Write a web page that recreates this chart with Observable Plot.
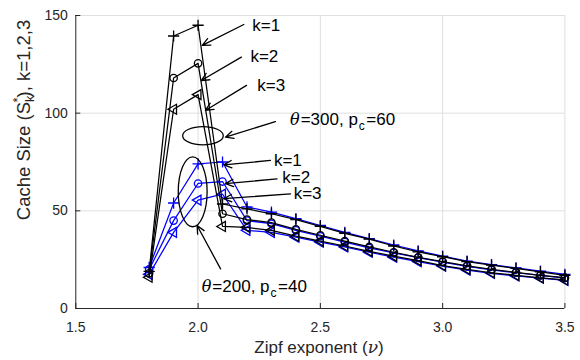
<!DOCTYPE html>
<html><head><meta charset="utf-8">
<script src="https://cdn.jsdelivr.net/npm/d3@7"></script>
<script src="https://cdn.jsdelivr.net/npm/@observablehq/plot@0.6"></script>
<style>body{margin:0;background:#fff}</style>
</head><body><div id="chart"></div>
<script>
// ---- data ----
const zipf = [1.8,1.9,2.0,2.1,2.2,2.3,2.4,2.5,2.6,2.7,2.8,2.9,3.0,3.1,3.2,3.3,3.4,3.5];
const th300k1 = [19,139.5,145,53.5,51,48.5,45.5,42,38.5,35.5,32,29,26.5,24,22.2,20.5,18.8,17];
const th300k2 = [18,118,125.5,48.5,45.5,44,40.5,37.5,34.5,31.5,28.8,26.2,24,21.8,20,18.5,17,15.8];
const th300k3 = [16,102,109.5,42,41.5,40,37,34.5,32,29.3,26.8,24.5,22,20,18.3,17,15.7,14.6];
const th200k1 = [21,54,74,75,52,49.3,46,42.5,39,35.8,32.5,29.5,26.8,24.3,22.5,20.8,19.1,17.5];
const th200k2 = [20,45,64,65,45,43.4,40,37,34,31,28.5,26,23.8,21.6,19.8,18.3,16.9,15.6];
const th200k3 = [17.5,39,55.5,58.5,40,39,36.5,34,31.5,28.8,26.3,24,21.7,19.7,18,16.7,15.5,14.4];
const xTicks = [1.5,2,2.5,3,3.5];
const yTicks = [0,50,100,150];
const xLabel = "Zipf exponent (";
const yLabel = ["Cache Size (S", "k", "*", "), k=1,2,3"];

// annotation arrows (data coords: from text to target)
const arrows = [
  {x1:2.187,y1:145.4,x2:2.017,y2:134.7},
  {x1:2.177,y1:128.7,x2:2.013,y2:116.7},
  {x1:2.198,y1:114.2,x2:2.030,y2:101.4},
  {x1:2.316,y1:95.7,x2:2.112,y2:87.7},
  {x1:2.296,y1:75.8,x2:2.105,y2:73.5},
  {x1:2.323,y1:66.4,x2:2.112,y2:63.9},
  {x1:2.378,y1:58.7,x2:2.105,y2:56.2},
  {x1:2.092,y1:20.3,x2:1.996,y2:42.5}
];
const kLabels = [
  {x:2.222,y:142.3,t:"k=1"},{x:2.214,y:126.1,t:"k=2"},{x:2.242,y:111.6,t:"k=3"},
  {x:2.310,y:73.2,t:"k=1"},{x:2.344,y:64.4,t:"k=2"},{x:2.391,y:56.2,t:"k=3"}
];
const groupLabels = [
  {x:2.378,y:93.7,theta:"300",pc:"60"},
  {x:2.017,y:8.35,theta:"200",pc:"40"}
];
const ellipses = [
  {cx:2.022,cy:88.2,rx:0.083,ry:4.7},
  {cx:1.980,cy:59.5,rx:0.059,ry:17.9}
];

const series = [
  {vals:th200k1,color:"#0000ff",symbol:"plus",rot:0},
  {vals:th200k2,color:"#0000ff",symbol:"circle",rot:0},
  {vals:th200k3,color:"#0000ff",symbol:"triangle",rot:-90},
  {vals:th300k1,color:"#000000",symbol:"plus",rot:0},
  {vals:th300k2,color:"#000000",symbol:"circle",rot:0},
  {vals:th300k3,color:"#000000",symbol:"triangle",rot:-90}
];

const W = 580, H = 360, mL = 75.3, mR = 15.6, mT = 15, mB = 52;
const fw = W - mL - mR, fh = H - mT - mB;
const axisColor = "#262626";

const marks = [
  Plot.gridX(xTicks.filter(d => d > 1.5), {stroke:"#dfdfdf", strokeOpacity:1}),
  Plot.gridY(yTicks.filter(d => d > 0), {stroke:"#dfdfdf", strokeOpacity:1})
];
for (const s of series) {
  const rows = s.vals.map((v,i) => ({x:zipf[i], y:v}));
  marks.push(Plot.line(rows, {x:"x", y:"y", stroke:s.color, strokeWidth:1.25}));
  marks.push(Plot.dot(rows, {x:"x", y:"y", symbol:s.symbol, stroke:s.color, fill:"none", r:3.7, strokeWidth:1.3, rotate:s.rot}));
}
marks.push(
  Plot.ruleX([1.5], {stroke:axisColor}),
  Plot.ruleY([0], {stroke:axisColor}),
  Plot.tickX(xTicks, {x:d=>d, insetTop: fh - 5, stroke:axisColor}),
  Plot.tickY(yTicks, {y:d=>d, insetRight: fw - 5, stroke:axisColor}),
  Plot.axisX(xTicks, {tickSize:0, tickPadding:14, fontSize:14, fill:axisColor, label:null}),
  Plot.axisY(yTicks, {tickSize:0, tickPadding:8, fontSize:14, fill:axisColor, label:null}),
  Plot.arrow(arrows, {x1:"x1", y1:"y1", x2:"x2", y2:"y2", stroke:"#000", strokeWidth:1.3, headLength:10, headAngle:50}),
  Plot.text(kLabels, {x:"x", y:"y", text:"t", textAnchor:"start", lineAnchor:"bottom", fontSize:17, fill:"#000"})
);

const chart = Plot.plot({
  width: W, height: H,
  marginLeft: mL, marginRight: mR, marginTop: mT, marginBottom: mB,
  x: {domain:[1.5,3.5], axis:null},
  y: {domain:[0,150], axis:null},
  style: {fontFamily:"'Liberation Sans', Arial, sans-serif", fontSize:"14px", background:"#fff"},
  marks
});
document.getElementById("chart").appendChild(chart);

const xs = chart.scale("x"), ys = chart.scale("y");
const svg = d3.select(chart);
const g = svg.append("g").attr("font-family","'Liberation Sans', Arial, sans-serif").attr("text-anchor","start");

// ellipses
for (const e of ellipses) {
  const cx = xs.apply(e.cx), cy = ys.apply(e.cy);
  g.append("ellipse").attr("cx",cx).attr("cy",cy)
    .attr("rx", Math.abs(xs.apply(e.cx+e.rx)-cx)).attr("ry", Math.abs(ys.apply(e.cy+e.ry)-cy))
    .attr("fill","none").attr("stroke","#000").attr("stroke-width",1.3);
}
// group labels: θ=..., p_c=...
for (const L of groupLabels) {
  const t = g.append("text").attr("x", xs.apply(L.x)).attr("y", ys.apply(L.y)).attr("text-anchor","start").attr("font-size",17).attr("fill","#000");
  t.append("tspan").attr("font-family","'DejaVu Serif', serif").attr("font-style","italic").attr("font-size",16).text("θ");
  t.append("tspan").attr("dx",1).text("=" + L.theta + ", p");
  t.append("tspan").attr("font-size",12).attr("dx",1).attr("dy",5).text("c");
  t.append("tspan").attr("dx",1.5).attr("dy",-5).text("=" + L.pc);
}
// x label
const xl = g.append("text").attr("x", 319).attr("y", 353).attr("text-anchor","middle").attr("font-size",17).attr("fill",axisColor);
xl.append("tspan").text(xLabel);
xl.append("tspan").attr("font-family","'DejaVu Serif', serif").attr("font-style","italic").text("ν");
xl.append("tspan").text(")");
// y label
const yl = g.append("text").attr("transform","translate(30,120) rotate(-90)").attr("text-anchor","middle").attr("font-size",18.5).attr("fill",axisColor);
yl.append("tspan").text(yLabel[0]);
yl.append("tspan").attr("font-size",13).attr("dy",4).text(yLabel[1]);
yl.append("tspan").attr("font-size",13).attr("dx",-7).attr("dy",-12).text(yLabel[2]);
yl.append("tspan").attr("dy",8).text(yLabel[3]);
</script>
</body></html>
